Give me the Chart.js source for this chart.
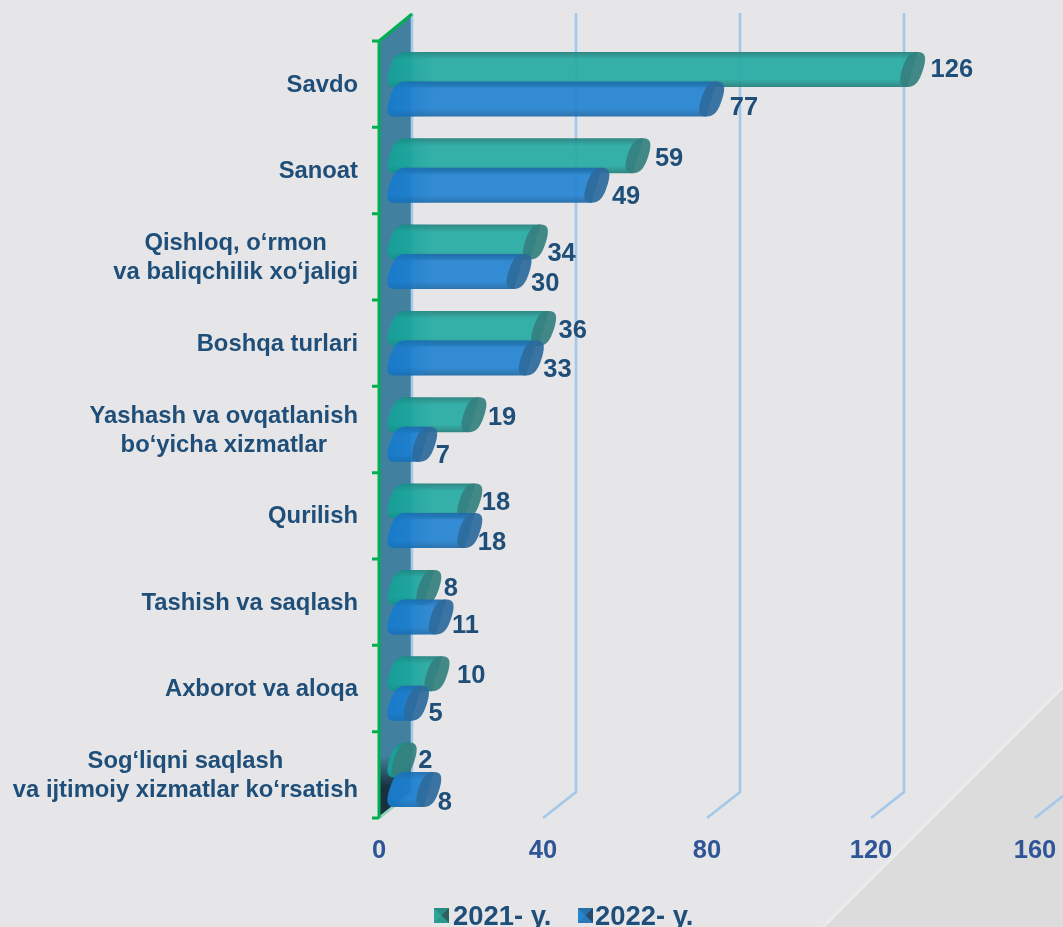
<!DOCTYPE html>
<html>
<head>
<meta charset="utf-8">
<title>Chart</title>
<script src="https://cdn.jsdelivr.net/npm/chart.js@4"></script>
<style>
  html, body { margin: 0; padding: 0; background: #e6e6e8; }
  #wrap { width: 1063px; height: 927px; position: relative; }
  canvas { display: block; }
</style>
</head>
<body>
<div id="wrap"><canvas id="chart" width="1063" height="927"></canvas></div>
<script>
const categories = [
    ['Savdo'],
    ['Sanoat'],
    ['Qishloq, o‘rmon', 'va baliqchilik xo‘jaligi'],
    ['Boshqa turlari'],
    ['Yashash va ovqatlanish', 'bo‘yicha xizmatlar'],
    ['Qurilish'],
    ['Tashish va saqlash'],
    ['Axborot va aloqa'],
    ['Sog‘liqni saqlash', 'va ijtimoiy xizmatlar ko‘rsatish']
];
const seriesNames = ['2021- y.', '2022- y.'];
const values2021 = [126, 59, 34, 36, 19, 18, 8, 10, 2];
const values2022 = [77, 49, 30, 33, 7, 18, 11, 5, 8];
const xTicks = [0, 40, 80, 120, 160];

// hand nudges for the value labels, like in the original slide
const nudge2021 = [[6, 1], [5, 3], [0, 12], [3, 3], [2, 3], [0, 2], [3, 2], [8, 2], [2, 1]];
const nudge2022 = [[6, 9], [3, 12], [0, 12], [0, 12], [-1, 12], [-4, 12], [-1, 9], [0, 11], [-3, 13]];

const FONT = '"Liberation Sans", Arial, sans-serif';
const DEPTH_X = 33;
const DEPTH_Y = 26;
const AXIS_GREEN = '#00b050';
const GRID_BLUE = '#a3c8ea';
const SHEAR = 0.3;
const CAP_RX = 10.5;
const CAP_ROUND = 0.72; // above 0.55 gives a fuller, less pointed ellipse

const teal = { edge: '#24807c', mid: '#27aca4', start: '#0f9a92', cap: '#34807f', icon: ['#2ca59b', '#2a8a84', '#2c5f5f', '#2a9a90'] };
const blue = { edge: '#1f6aa8', mid: '#2685d2', start: '#1276c6', cap: '#2d6a9c', icon: ['#2386d0', '#2a70a8', '#234a6a', '#2a78b8'] };

// sheared rounded end of a cylinder. Adds to the current path.
function addCap(ctx, cx, cy, ry) {
    const rx = CAP_RX;
    const kx = rx * CAP_ROUND;
    const ky = Math.max(ry, 0) * CAP_ROUND;
    ctx.save();
    ctx.transform(1, 0, -SHEAR, 1, cx, cy);
    ctx.moveTo(0, -ry);
    ctx.bezierCurveTo(kx, -ry, rx, -ky, rx, 0);
    ctx.bezierCurveTo(rx, ky, kx, ry, 0, ry);
    ctx.bezierCurveTo(-kx, ry, -rx, ky, -rx, 0);
    ctx.bezierCurveTo(-rx, -ky, -kx, -ry, 0, -ry);
    ctx.closePath();
    ctx.restore();
}

function drawCylinder(ctx, bar, base, c) {
    const ry = bar.height / 2;
    const cy = bar.y;
    const leftX = base + 21;
    const rightX = Math.max(bar.x + 17, leftX + 2);
    const shift = SHEAR * ry;

    ctx.save();
    ctx.globalAlpha = 0.93;

    // left end and body as one shape, so the alpha does not double up
    const outline = () => {
        ctx.beginPath();
        addCap(ctx, leftX, cy, ry);
        ctx.moveTo(leftX + shift, cy - ry);
        ctx.lineTo(rightX + shift, cy - ry);
        ctx.lineTo(rightX - shift, cy + ry);
        ctx.lineTo(leftX - shift, cy + ry);
        ctx.closePath();
    };

    const body = ctx.createLinearGradient(0, cy - ry, 0, cy + ry);
    body.addColorStop(0, c.edge);
    body.addColorStop(0.22, c.mid);
    body.addColorStop(0.78, c.mid);
    body.addColorStop(1, c.edge);
    ctx.fillStyle = body;
    outline();
    ctx.fill();

    // more saturated at the start
    const fade = ctx.createLinearGradient(base + 8, 0, base + 55, 0);
    fade.addColorStop(0, c.start);
    fade.addColorStop(1, c.start + '00');
    ctx.fillStyle = fade;
    ctx.globalAlpha = 0.7;
    outline();
    ctx.fill();

    // right end
    ctx.globalAlpha = 0.93;
    ctx.fillStyle = c.cap;
    ctx.beginPath();
    addCap(ctx, rightX, cy, ry);
    ctx.fill();
    ctx.restore();
}

function drawLegendIcon(ctx, x, y, s, c) {
    const m = s / 2;
    const tris = [
        [[x, y], [x, y + s]],
        [[x, y], [x + s, y]],
        [[x + s, y], [x + s, y + s]],
        [[x, y + s], [x + s, y + s]]
    ];
    ctx.fillStyle = c.icon[1];
    ctx.fillRect(x, y, s, s);
    tris.forEach((t, i) => {
        ctx.fillStyle = c.icon[i];
        ctx.beginPath();
        ctx.moveTo(t[0][0], t[0][1]);
        ctx.lineTo(t[1][0], t[1][1]);
        ctx.lineTo(x + m, y + m);
        ctx.closePath();
        ctx.fill();
    });
}

const sceneryPlugin = {
    id: 'scenery',
    beforeDraw(chart) {
        const ctx = chart.ctx;
        ctx.save();
        ctx.fillStyle = '#e6e6e8';
        ctx.fillRect(0, 0, chart.width, chart.height);
        ctx.fillStyle = '#dcdcdd';
        ctx.beginPath();
        ctx.moveTo(1063, 687);
        ctx.lineTo(823, 927);
        ctx.lineTo(1063, 927);
        ctx.closePath();
        ctx.fill();
        ctx.strokeStyle = '#ebebec';
        ctx.lineWidth = 3;
        ctx.beginPath();
        ctx.moveTo(1063, 687);
        ctx.lineTo(823, 927);
        ctx.stroke();
        ctx.restore();
    },
    beforeDatasetsDraw(chart) {
        const ctx = chart.ctx;
        const x = chart.scales.x;
        const { top, bottom } = chart.chartArea;
        const x0 = x.getPixelForValue(0);
        ctx.save();

        // side wall
        const wall = ctx.createLinearGradient(0, top, 0, bottom);
        wall.addColorStop(0, '#41809f');
        wall.addColorStop(0.92, '#41809f');
        wall.addColorStop(0.96, '#18303f');
        wall.addColorStop(1, '#18303f');
        ctx.fillStyle = wall;
        ctx.beginPath();
        ctx.moveTo(x0, top);
        ctx.lineTo(x0 + DEPTH_X, top - DEPTH_Y);
        ctx.lineTo(x0 + DEPTH_X, bottom - DEPTH_Y);
        ctx.lineTo(x0, bottom);
        ctx.closePath();
        ctx.fill();

        // 3d grid: back wall line plus a diagonal on the floor
        ctx.strokeStyle = GRID_BLUE;
        ctx.lineWidth = 2.6;
        xTicks.forEach(v => {
            const px = x.getPixelForValue(v);
            ctx.beginPath();
            ctx.moveTo(px, bottom);
            ctx.lineTo(px + DEPTH_X, bottom - DEPTH_Y);
            ctx.lineTo(px + DEPTH_X, top - DEPTH_Y - 2);
            ctx.stroke();
        });

        // green axis
        ctx.strokeStyle = '#8fd6ab';
        ctx.lineWidth = 2;
        ctx.beginPath();
        ctx.moveTo(x0, bottom);
        ctx.lineTo(x0 + DEPTH_X, bottom - DEPTH_Y);
        ctx.stroke();
        ctx.strokeStyle = AXIS_GREEN;
        ctx.lineWidth = 3;
        ctx.beginPath();
        ctx.moveTo(x0 + DEPTH_X, top - DEPTH_Y - 1);
        ctx.lineTo(x0, top);
        ctx.lineTo(x0, bottom);
        for (let i = 0; i <= categories.length; i++) {
            const py = top + (bottom - top) * i / categories.length;
            ctx.moveTo(x0 - 7, py);
            ctx.lineTo(x0, py);
        }
        ctx.stroke();
        ctx.restore();
    },
    afterDatasetsDraw(chart) {
        const ctx = chart.ctx;
        const x = chart.scales.x;
        const y = chart.scales.y;
        const base = x.getPixelForValue(0);
        const metaA = chart.getDatasetMeta(0);
        const metaB = chart.getDatasetMeta(1);

        // cylinders of one category, the 2022 one sits on top
        metaA.data.forEach((bar, i) => {
            drawCylinder(ctx, bar, base, teal);
            drawCylinder(ctx, metaB.data[i], base, blue);
        });

        ctx.save();
        ctx.textBaseline = 'middle';

        // value labels
        ctx.font = 'bold 25.5px ' + FONT;
        ctx.fillStyle = '#1f4e79';
        ctx.textAlign = 'left';
        metaA.data.forEach((bar, i) => {
            ctx.fillText(String(values2021[i]), bar.x + 29 + nudge2021[i][0], bar.y + nudge2021[i][1]);
        });
        metaB.data.forEach((bar, i) => {
            ctx.fillText(String(values2022[i]), bar.x + 29 + nudge2022[i][0], bar.y + nudge2022[i][1]);
        });

        // category labels: right aligned block, lines centred inside it
        ctx.font = 'bold 23.8px ' + FONT;
        ctx.textAlign = 'center';
        const right = base - 21;
        categories.forEach((lines, i) => {
            const cy = y.getPixelForValue(i) + 1;
            const widest = Math.max(...lines.map(l => ctx.measureText(l).width));
            lines.forEach((line, n) => {
                ctx.fillText(line, right - widest / 2, cy + (n - (lines.length - 1) / 2) * 29);
            });
        });

        // legend
        ctx.font = 'bold 27.4px ' + FONT;
        ctx.textAlign = 'left';
        drawLegendIcon(ctx, 434, 908, 15, teal);
        ctx.fillStyle = '#1f4e79';
        ctx.fillText(seriesNames[0], 453, 917);
        drawLegendIcon(ctx, 578, 908, 15, blue);
        ctx.fillStyle = '#1f4e79';
        ctx.fillText(seriesNames[1], 595, 917);
        ctx.restore();
    }
};

new Chart(document.getElementById('chart'), {
    type: 'bar',
    data: {
        labels: categories.map(c => c.join(' ')),
        datasets: [
            { label: seriesNames[0], data: values2021, backgroundColor: 'rgba(0,0,0,0)' },
            { label: seriesNames[1], data: values2022, backgroundColor: 'rgba(0,0,0,0)' }
        ]
    },
    options: {
        indexAxis: 'y',
        responsive: false,
        animation: false,
        devicePixelRatio: 1,
        categoryPercentage: 0.684,
        barPercentage: 1.186,
        layout: { padding: { top: 41, right: 28, left: 0, bottom: 0 } },
        plugins: {
            legend: { display: false },
            tooltip: { enabled: false }
        },
        scales: {
            x: {
                min: 0,
                max: 160,
                afterFit: s => { s.height = 109; s.paddingRight = 0; s.paddingLeft = 0; },
                grid: { display: false },
                border: { display: false },
                ticks: {
                    stepSize: 40,
                    maxRotation: 0,
                    padding: 10,
                    color: '#2f5597',
                    font: { family: FONT, size: 25.5, weight: 'bold' }
                }
            },
            y: {
                afterFit: s => { s.width = 379; },
                grid: { display: false },
                border: { display: false },
                ticks: { display: false }
            }
        }
    },
    plugins: [sceneryPlugin]
});
</script>
</body>
</html>
